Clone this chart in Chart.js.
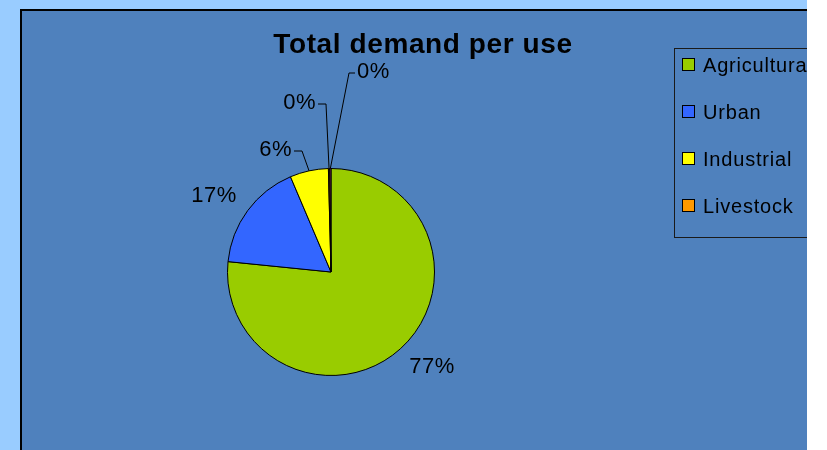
<!DOCTYPE html>
<html>
<head>
<meta charset="utf-8">
<title>Total demand per use</title>
<script src="https://cdn.jsdelivr.net/npm/chart.js@4.4.1/dist/chart.umd.min.js"></script>
<style>
    html, body { margin: 0; padding: 0; background: #ffffff; }
    #wrap { width: 827px; height: 450px; }
</style>
</head>
<body>
<div id="wrap"><canvas id="demandChart" width="827" height="450"></canvas></div>
<script>
// Demand per use (share of total, %)
const categories = ['Agricultural', 'Urban', 'Industrial', 'Livestock', 'Other'];
const demand = [76.6, 17.0, 6.0, 0.2, 0.2];
const sliceColors = ['#99CC00', '#3366FF', '#FFFF00', '#FF9900', '#993366'];
const legendCount = 4; // the last slice has no legend entry

// Where each percentage label sits, relative to the pie centre
const labelSpots = [
    { dx: 101, dy: 95, align: 'center' },
    { dx: -117, dy: -76, align: 'center' },
    { dx: -39, dy: -122, align: 'right', leader: true },
    { dx: -15, dy: -169, align: 'right', leader: true },
    { dx: 26, dy: -200, align: 'left', leader: true }
];

const FONT = '"Liberation Sans", Arial, sans-serif';

// Backgrounds, plot frame and title
const framePlugin = {
    id: 'frame',
    beforeDraw(chart) {
        const ctx = chart.ctx;
        ctx.save();
        ctx.fillStyle = '#ffffff';
        ctx.fillRect(0, 0, 827, 450);
        ctx.fillStyle = '#99CCFF';
        ctx.fillRect(0, 0, 807, 450);
        ctx.fillStyle = '#4F81BD';
        ctx.fillRect(21, 10, 786, 440);
        ctx.strokeStyle = '#000000';
        ctx.lineWidth = 2;
        ctx.beginPath();
        ctx.moveTo(21, 450);
        ctx.lineTo(21, 10);
        ctx.lineTo(807, 10);
        ctx.stroke();

        ctx.fillStyle = '#000000';
        ctx.font = 'bold 28px ' + FONT;
        ctx.letterSpacing = '0.6px';
        ctx.textAlign = 'center';
        ctx.textBaseline = 'alphabetic';
        ctx.fillText('Total demand per use', 423, 53);
        ctx.restore();
    }
};

// Percentage labels with leader lines for the thin slices
const labelPlugin = {
    id: 'pctLabels',
    afterDatasetsDraw(chart) {
        const ctx = chart.ctx;
        const meta = chart.getDatasetMeta(0);
        const total = demand.reduce((a, b) => a + b, 0);
        ctx.save();
        ctx.font = '22px ' + FONT;
        ctx.letterSpacing = '0.5px';
        ctx.textBaseline = 'middle';
        ctx.fillStyle = '#000000';
        ctx.strokeStyle = '#000000';
        ctx.lineWidth = 1;

        meta.data.forEach((arc, i) => {
            const p = arc.getProps(['x', 'y', 'startAngle', 'endAngle', 'outerRadius'], true);
            const spot = labelSpots[i];
            const tx = p.x + spot.dx;
            const ty = p.y + spot.dy;
            const text = Math.round(demand[i] / total * 100) + '%';

            if (spot.leader) {
                const mid = (p.startAngle + p.endAngle) / 2;
                const ex = p.x + Math.cos(mid) * p.outerRadius;
                const ey = p.y + Math.sin(mid) * p.outerRadius;
                const gap = spot.align === 'right' ? 2 : -2;
                const elbowX = tx + (spot.align === 'right' ? 10 : -8);
                ctx.beginPath();
                ctx.moveTo(tx + gap, ty + 1);
                ctx.lineTo(elbowX, ty + 1);
                ctx.lineTo(ex, ey);
                ctx.stroke();
            }
            ctx.textAlign = spot.align;
            ctx.fillText(text, tx, ty);
        });
        ctx.restore();
    }
};

// Boxed legend on the right, cut off by the plot edge
const legendPlugin = {
    id: 'boxLegend',
    afterDraw(chart) {
        const ctx = chart.ctx;
        ctx.save();
        ctx.beginPath();
        ctx.rect(0, 0, 807, 450);
        ctx.clip();

        ctx.strokeStyle = '#1a1a1a';
        ctx.lineWidth = 1;
        ctx.strokeRect(674.5, 48.5, 160, 189);

        ctx.font = '20px ' + FONT;
        ctx.letterSpacing = '0.8px';
        ctx.textAlign = 'left';
        ctx.textBaseline = 'middle';
        for (let i = 0; i < legendCount; i++) {
            const cy = 65 + i * 47;
            ctx.fillStyle = sliceColors[i];
            ctx.fillRect(683, cy - 6, 11, 11);
            ctx.strokeStyle = '#000000';
            ctx.strokeRect(682.5, cy - 6.5, 12, 12);
            ctx.fillStyle = '#000000';
            ctx.fillText(categories[i], 703, cy + 1);
        }
        ctx.restore();
    }
};

function createDemandChart() {
    const ctx = document.getElementById('demandChart').getContext('2d');
    new Chart(ctx, {
        type: 'pie',
        data: {
            labels: categories,
            datasets: [{
                data: demand,
                backgroundColor: sliceColors,
                borderColor: '#000000',
                borderWidth: 1
            }]
        },
        options: {
            responsive: false,
            animation: false,
            events: [],
            layout: {
                padding: { left: 227, right: 392, top: 168, bottom: 74 }
            },
            plugins: {
                legend: { display: false },
                title: { display: false },
                tooltip: { enabled: false }
            }
        },
        plugins: [framePlugin, labelPlugin, legendPlugin]
    });
}

document.addEventListener('DOMContentLoaded', createDemandChart);
</script>
</body>
</html>
